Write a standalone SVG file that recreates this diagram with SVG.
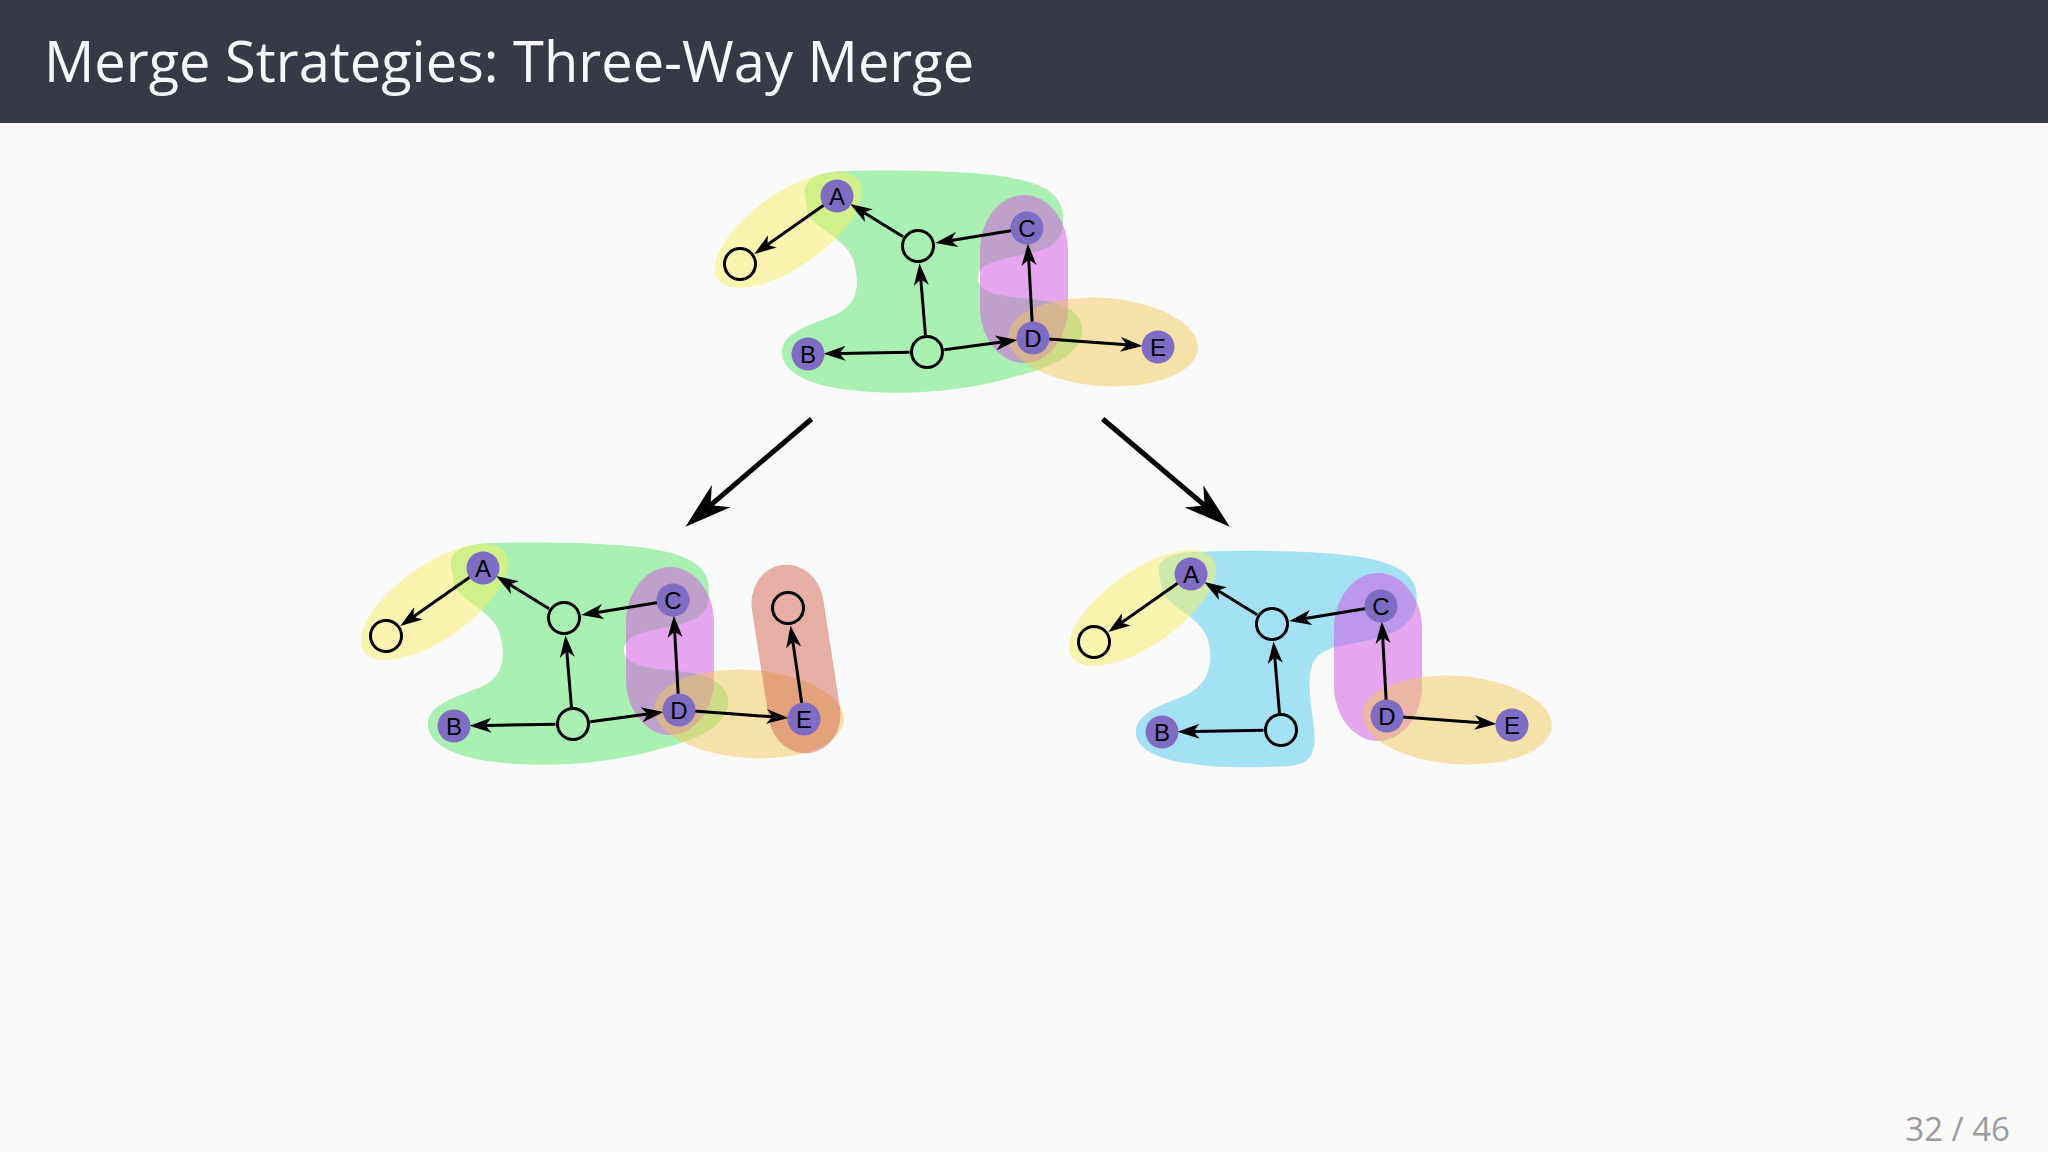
<svg xmlns="http://www.w3.org/2000/svg" xmlns:xlink="http://www.w3.org/1999/xlink" width="2048" height="1152" viewBox="0 0 2048 1152">
<style>
.bg{fill:#fafafb}
.bar{fill:#363946}
.title{font-family:"Open Sans","Noto Sans",sans-serif;font-size:56px;fill:#f7f7fa}
.page{font-family:"Open Sans","Noto Sans",sans-serif;font-size:33px;fill:#9a9aa0}
.green{fill:#5ae66c;fill-opacity:.5}
.blue{fill:#50c8ee;fill-opacity:.5}
.yellow{fill:#faf062;fill-opacity:.5}
.purple{fill:#d250e4;fill-opacity:.5}
.orange{fill:#f0c858;fill-opacity:.5}
.salmon{fill:#d2644e;fill-opacity:.5}
.edge{stroke:#000;stroke-width:3;fill:none;marker-end:url(#arr)}
.big{stroke:#000;stroke-width:5;fill:none;marker-end:url(#bigarr)}
.empty{fill:none;stroke:#000;stroke-width:3}
.ref{fill:#7f6dc3}
.lbl{font-family:"Liberation Sans",Arial,sans-serif;font-size:24px;fill:#000;text-anchor:middle}
</style>
<defs>
<marker id="arr" markerUnits="userSpaceOnUse" viewBox="0 -8 22 16" markerWidth="22" markerHeight="16" refX="6" refY="0" orient="auto">
<path d="M0,-7.5 L22,0 L0,7.5 L6,0 Z" fill="#000"/>
</marker>
<marker id="bigarr" markerUnits="userSpaceOnUse" viewBox="0 -15 48 30" markerWidth="48" markerHeight="30" refX="14" refY="0" orient="auto">
<path d="M0,-14.5 L47,0 L0,14.5 L14,0 Z" fill="#000"/>
</marker>
<path id="greenShape" d="M806,200 C800,180 815,172 845,171 C880,170 960,170 1000,176 C1040,182 1058,192 1062,210 C1066,232 1060,246 1035,252 C1000,260 978,262 978,278 C978,294 1000,296 1040,300 C1075,304 1088,322 1080,340 C1070,362 1040,370 1010,378 C960,392 900,396 850,390 C800,384 780,368 782,350 C784,332 810,325 835,315 C858,305 860,285 854,262 C848,240 815,228 808,215 Z"/>
<path id="blueShape" d="M806,200 C800,182 815,174 845,174 C880,172 960,172 1000,178 C1040,184 1058,194 1062,212 C1066,234 1055,250 1030,258 C1000,268 975,265 962,280 C950,295 958,330 960,350 C962,372 960,386 935,388 C900,390 860,390 840,386 C800,382 780,368 782,352 C784,334 810,326 830,318 C855,307 860,285 854,262 C848,240 815,228 808,215 Z"/>
<ellipse id="yellowShape" cx="788.5" cy="230" rx="86" ry="37" transform="rotate(-35 788.5 230)"/>
<rect id="purpleShape" x="980" y="195" width="88" height="168" rx="44" ry="56"/>
<ellipse id="orangeShape" cx="1103" cy="342" rx="95" ry="44" transform="rotate(4 1103 342)"/>
</defs>
<rect class="bg" x="0" y="0" width="2048" height="1152"/>
<rect class="bar" x="0" y="0" width="2048" height="123"/>
<text class="title" x="44" y="82">Merge Strategies: Three-Way Merge</text>
<text class="page" x="2010" y="1141" text-anchor="end">32 / 46</text>

<!-- base graph -->
<g id="base-graph">
<g id="base-groups">
<use xlink:href="#greenShape" class="green"/>
<use xlink:href="#yellowShape" class="yellow"/>
<use xlink:href="#purpleShape" class="purple"/>
<use xlink:href="#orangeShape" class="orange"/>
</g>
<g id="base-connectors">
<line class="edge" x1="824.7" y1="204.6" x2="767.4" y2="244.8"/>
<line class="edge" x1="903.1" y1="236.8" x2="863.8" y2="212.5"/>
<line class="edge" x1="1012.2" y1="230.4" x2="951.1" y2="240.5"/>
<line class="edge" x1="925.5" y1="335.6" x2="920.8" y2="279.3"/>
<line class="edge" x1="909.5" y1="352.3" x2="839.5" y2="353.4"/>
<line class="edge" x1="944.3" y1="349.7" x2="1001.7" y2="342.1"/>
<line class="edge" x1="1032.2" y1="323" x2="1028.7" y2="259.5"/>
<line class="edge" x1="1048" y1="339.1" x2="1126.5" y2="344.8"/>
</g>
<g id="base-L"><circle class="empty" cx="740" cy="264" r="15.5"/></g>
<g id="base-M"><circle class="empty" cx="918" cy="246" r="15.5"/></g>
<g id="base-N"><circle class="empty" cx="927" cy="352" r="15.5"/></g>
<g id="base-A"><circle class="ref" cx="837" cy="196" r="16.5"/><text class="lbl" x="837" y="204.5">A</text></g>
<g id="base-B"><circle class="ref" cx="808" cy="354" r="16.5"/><text class="lbl" x="808" y="362.5">B</text></g>
<g id="base-C"><circle class="ref" cx="1027" cy="228" r="16.5"/><text class="lbl" x="1027" y="236.5">C</text></g>
<g id="base-D"><circle class="ref" cx="1033" cy="338" r="16.5"/><text class="lbl" x="1033" y="346.5">D</text></g>
<g id="base-E"><circle class="ref" cx="1158" cy="347" r="16.5"/><text class="lbl" x="1158" y="355.5">E</text></g>
</g>

<!-- big arrows -->
<g id="transition-connectors">
<line class="big" x1="811.5" y1="419" x2="710.6" y2="505.2"/>
<line class="big" x1="1102.7" y1="419" x2="1204.6" y2="505.4"/>
</g>

<!-- left result -->
<g id="left-graph" transform="translate(-354 372)">
<g id="left-groups">
<use xlink:href="#greenShape" class="green"/>
<use xlink:href="#yellowShape" class="yellow"/>
<use xlink:href="#purpleShape" class="purple"/>
<use xlink:href="#orangeShape" class="orange"/>
<rect class="salmon" x="1114" y="192" width="72" height="190" rx="36" ry="40" transform="rotate(-8.8 1150 287)"/>
</g>
<g id="left-connectors">
<line class="edge" x1="824.7" y1="204.6" x2="767.4" y2="244.8"/>
<line class="edge" x1="903.1" y1="236.8" x2="863.8" y2="212.5"/>
<line class="edge" x1="1012.2" y1="230.4" x2="951.1" y2="240.5"/>
<line class="edge" x1="925.5" y1="335.6" x2="920.8" y2="279.3"/>
<line class="edge" x1="909.5" y1="352.3" x2="839.5" y2="353.4"/>
<line class="edge" x1="944.3" y1="349.7" x2="1001.7" y2="342.1"/>
<line class="edge" x1="1032.2" y1="323" x2="1028.7" y2="259.5"/>
<line class="edge" x1="1048" y1="339.1" x2="1126.5" y2="344.8"/>
<line class="edge" x1="1155.9" y1="332.2" x2="1146.8" y2="269.4"/>
</g>
<g id="left-L"><circle class="empty" cx="740" cy="264" r="15.5"/></g>
<g id="left-M"><circle class="empty" cx="918" cy="246" r="15.5"/></g>
<g id="left-N"><circle class="empty" cx="927" cy="352" r="15.5"/></g>
<g id="left-F"><circle class="empty" cx="1142" cy="236" r="15.5"/></g>
<g id="left-A"><circle class="ref" cx="837" cy="196" r="16.5"/><text class="lbl" x="837" y="204.5">A</text></g>
<g id="left-B"><circle class="ref" cx="808" cy="354" r="16.5"/><text class="lbl" x="808" y="362.5">B</text></g>
<g id="left-C"><circle class="ref" cx="1027" cy="228" r="16.5"/><text class="lbl" x="1027" y="236.5">C</text></g>
<g id="left-D"><circle class="ref" cx="1033" cy="338" r="16.5"/><text class="lbl" x="1033" y="346.5">D</text></g>
<g id="left-E"><circle class="ref" cx="1158" cy="347" r="16.5"/><text class="lbl" x="1158" y="355.5">E</text></g>
</g>

<!-- right result -->
<g id="right-graph" transform="translate(354 378)">
<g id="right-groups">
<use xlink:href="#blueShape" class="blue"/>
<use xlink:href="#yellowShape" class="yellow"/>
<use xlink:href="#purpleShape" class="purple"/>
<use xlink:href="#orangeShape" class="orange"/>
</g>
<g id="right-connectors">
<line class="edge" x1="824.7" y1="204.6" x2="767.4" y2="244.8"/>
<line class="edge" x1="903.1" y1="236.8" x2="863.8" y2="212.5"/>
<line class="edge" x1="1012.2" y1="230.4" x2="951.1" y2="240.5"/>
<line class="edge" x1="925.5" y1="335.6" x2="920.8" y2="279.3"/>
<line class="edge" x1="909.5" y1="352.3" x2="839.5" y2="353.4"/>
<line class="edge" x1="1032.2" y1="323" x2="1028.7" y2="259.5"/>
<line class="edge" x1="1048" y1="339.1" x2="1126.5" y2="344.8"/>
</g>
<g id="right-L"><circle class="empty" cx="740" cy="264" r="15.5"/></g>
<g id="right-M"><circle class="empty" cx="918" cy="246" r="15.5"/></g>
<g id="right-N"><circle class="empty" cx="927" cy="352" r="15.5"/></g>
<g id="right-A"><circle class="ref" cx="837" cy="196" r="16.5"/><text class="lbl" x="837" y="204.5">A</text></g>
<g id="right-B"><circle class="ref" cx="808" cy="354" r="16.5"/><text class="lbl" x="808" y="362.5">B</text></g>
<g id="right-C"><circle class="ref" cx="1027" cy="228" r="16.5"/><text class="lbl" x="1027" y="236.5">C</text></g>
<g id="right-D"><circle class="ref" cx="1033" cy="338" r="16.5"/><text class="lbl" x="1033" y="346.5">D</text></g>
<g id="right-E"><circle class="ref" cx="1158" cy="347" r="16.5"/><text class="lbl" x="1158" y="355.5">E</text></g>
</g>
</svg>
